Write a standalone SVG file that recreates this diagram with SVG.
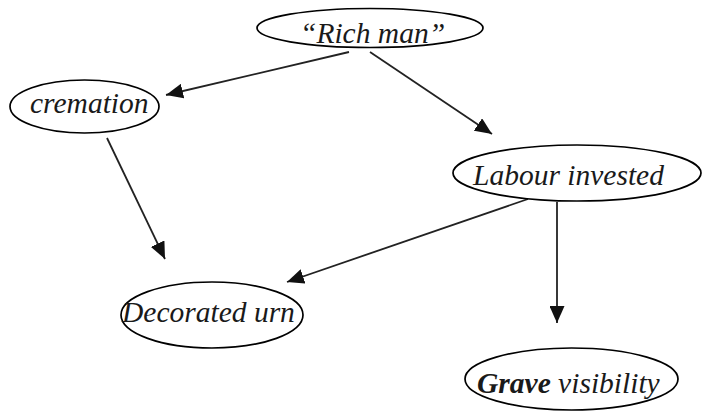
<svg xmlns="http://www.w3.org/2000/svg" width="704" height="412" viewBox="0 0 704 412">
<style>
.n ellipse{fill:none;stroke:#000;stroke-width:1.7}
.n text{font-family:"Liberation Serif","Times New Roman",serif;font-style:italic;font-size:29.5px;fill:#1a1a1a}
#edges line{stroke:#222;stroke-width:1.8}
</style>
<defs>
<marker id="ah" viewBox="0 0 17 15" refX="17" refY="7.5" markerWidth="17" markerHeight="15" markerUnits="userSpaceOnUse" orient="auto">
<path d="M0,0 L17,7.5 L0,15 Z" fill="#111"/>
</marker>
</defs>
<rect width="704" height="412" fill="#fff"/>
<g id="edges">
<line x1="349" y1="52" x2="166" y2="95" marker-end="url(#ah)"/>
<line x1="370" y1="52" x2="492" y2="134" marker-end="url(#ah)"/>
<line x1="107" y1="138" x2="165" y2="259" marker-end="url(#ah)"/>
<line x1="528" y1="199" x2="287" y2="282" marker-end="url(#ah)"/>
<line x1="557" y1="202" x2="557" y2="323" marker-end="url(#ah)"/>
</g>
<g id="rich" class="n">
<ellipse cx="370" cy="28" rx="113" ry="19.5"/>
<text x="300" y="43">“Rich man”</text>
</g>
<g id="cremation" class="n">
<ellipse cx="84.5" cy="106.5" rx="74.5" ry="26.5"/>
<text x="30" y="113">cremation</text>
</g>
<g id="labour" class="n">
<ellipse cx="577" cy="173" rx="124" ry="28"/>
<text x="473" y="185">Labour invested</text>
</g>
<g id="urn" class="n">
<ellipse cx="212" cy="315" rx="91" ry="33"/>
<text x="122" y="322">Decorated urn</text>
</g>
<g id="grave" class="n">
<ellipse cx="571.5" cy="379" rx="106.5" ry="31"/>
<text x="477" y="393"><tspan font-weight="bold">Grave</tspan> visibility</text>
</g>
</svg>
